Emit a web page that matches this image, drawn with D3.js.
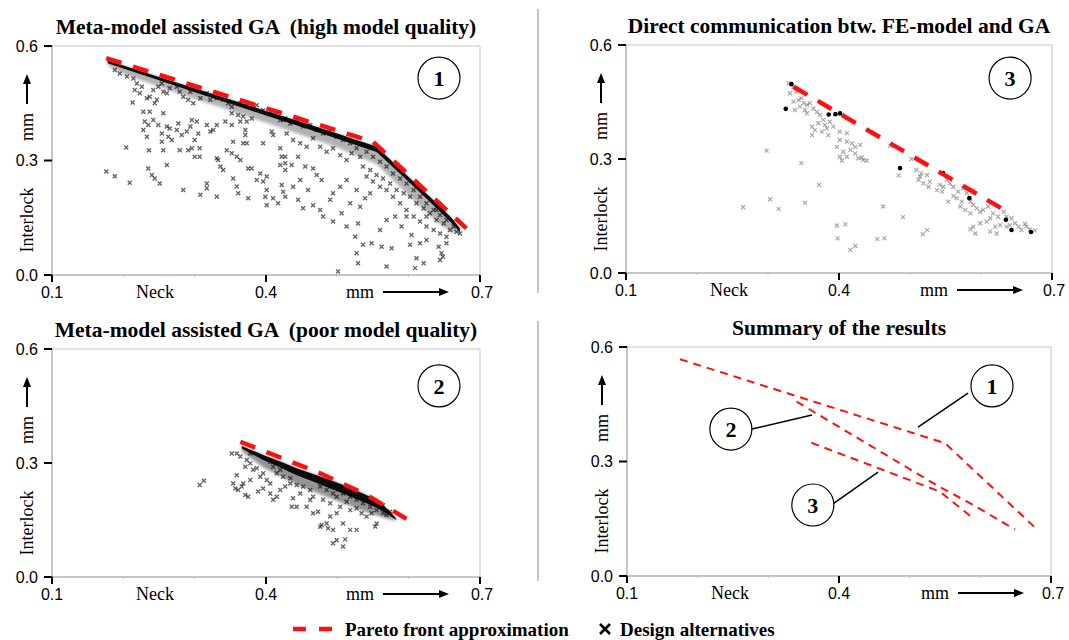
<!DOCTYPE html>
<html><head><meta charset="utf-8">
<script src="https://cdn.jsdelivr.net/npm/d3@7"></script>
<style>body{margin:0;background:#fff}</style>
</head><body><svg id="c" width="1069" height="640"></svg>
<script>
// ---------- data ----------
const xTicks=[0.1,0.4,0.7];
const yTicks=[0.0,0.3,0.6];
const xMinorTicks=[0.2,0.3,0.5,0.6];
const titles=["Meta-model assisted GA  (high model quality)","Direct communication btw. FE-model and GA","Meta-model assisted GA  (poor model quality)","Summary of the results"];
const xLabel="Neck", unitLabel="mm", yLabel="Interlock";
const legendLabels=["Pareto front approximation","Design alternatives"];

const p1Pareto=[[0.176,0.568],[0.40,0.437],[0.55,0.349],[0.681,0.122]];
const p2Pareto=[[0.364,0.356],[0.476,0.273],[0.541,0.216],[0.597,0.153]];
const p3Pareto=[[0.336,0.490],[0.629,0.170]];
const sum1=[[0.175,0.568],[0.55,0.348],[0.682,0.119]];
const sum2=[[0.340,0.457],[0.538,0.238],[0.590,0.186],[0.649,0.122]];
const sum3=[[0.361,0.349],[0.543,0.221],[0.588,0.154]];

const p1BandTop=[[0.178,0.562],[0.20,0.549],[0.25,0.519],[0.30,0.489],[0.35,0.460],[0.40,0.430],[0.45,0.401],[0.50,0.371],[0.53,0.352],[0.555,0.337],[0.58,0.292],[0.60,0.257],[0.62,0.222],[0.64,0.187],[0.66,0.150],[0.672,0.122]];
const p1BandBottom=[[0.178,0.555],[0.20,0.541],[0.25,0.510],[0.30,0.479],[0.35,0.449],[0.40,0.418],[0.45,0.388],[0.50,0.357],[0.53,0.338],[0.555,0.322],[0.58,0.279],[0.60,0.244],[0.62,0.209],[0.64,0.173],[0.66,0.136],[0.672,0.112]];
const p1HazeBottom=[[0.178,0.548],[0.20,0.527],[0.25,0.493],[0.30,0.461],[0.35,0.431],[0.40,0.399],[0.45,0.367],[0.50,0.334],[0.53,0.310],[0.555,0.290],[0.58,0.245],[0.60,0.208],[0.62,0.172],[0.64,0.138],[0.66,0.112],[0.672,0.108]];
const p2BandTop=[[0.366,0.345],[0.396,0.321],[0.420,0.304],[0.443,0.286],[0.466,0.271],[0.490,0.255],[0.513,0.239],[0.536,0.220],[0.555,0.203],[0.569,0.181],[0.581,0.157],[0.583,0.150]];
const p2BandBottom=[[0.366,0.338],[0.396,0.308],[0.420,0.288],[0.443,0.268],[0.466,0.251],[0.490,0.233],[0.513,0.216],[0.536,0.198],[0.555,0.182],[0.569,0.167],[0.581,0.152],[0.583,0.150]];
const p2HazeBottom=[[0.366,0.330],[0.396,0.288],[0.420,0.265],[0.443,0.243],[0.466,0.225],[0.490,0.207],[0.513,0.190],[0.536,0.174],[0.555,0.162],[0.569,0.154],[0.581,0.148],[0.583,0.150]];

const p1Points=[
[0.188,0.537],[0.195,0.528],[0.205,0.520],[0.214,0.515],[0.219,0.502],[0.226,0.493],[0.216,0.485],[0.223,0.476],[0.233,0.463],[0.237,0.467],[0.242,0.485],[0.249,0.493],[0.254,0.502],[0.256,0.480],[0.247,0.459],[0.244,0.450],[0.261,0.476],[0.265,0.489],[0.275,0.493],[0.279,0.480],[0.284,0.467],[0.294,0.480],[0.291,0.459],[0.298,0.450],[0.308,0.463],[0.317,0.476],[0.322,0.459],[0.331,0.463],[0.340,0.459],[0.347,0.450],[0.352,0.441],[0.364,0.450],[0.373,0.445],[0.382,0.437],[0.387,0.445],[0.396,0.432],[0.406,0.428],[0.413,0.419],[0.420,0.406],[0.427,0.410],[0.213,0.452],
[0.228,0.428],[0.237,0.428],[0.242,0.406],[0.256,0.424],[0.230,0.402],[0.235,0.393],[0.228,0.380],[0.233,0.362],[0.249,0.393],[0.261,0.389],[0.265,0.384],[0.275,0.380],[0.263,0.362],[0.254,0.371],[0.268,0.354],[0.254,0.349],[0.256,0.327],[0.277,0.397],[0.282,0.367],[0.289,0.376],[0.294,0.389],[0.296,0.406],[0.303,0.402],[0.305,0.371],[0.300,0.354],[0.296,0.332],[0.291,0.327],[0.307,0.332],[0.300,0.310],[0.279,0.327],[0.307,0.310],[0.317,0.393],[0.322,0.376],[0.326,0.380],[0.331,0.393],[0.343,0.402],[0.352,0.424],[0.361,0.419],[0.352,0.393],[0.364,0.402],[0.368,0.415],[0.373,0.402],[0.380,0.410],[0.371,0.380],[0.371,0.367],[0.368,0.345],[0.373,0.345],[0.354,0.349],[0.345,0.327],[0.359,0.310],[0.364,0.301],[0.331,0.306],[0.333,0.301],[0.352,0.319],[0.396,0.345],[0.408,0.376],[0.410,0.367],[0.420,0.332],[0.427,0.310],[0.204,0.334],[0.236,0.327],[0.261,0.288],
[0.176,0.271],[0.188,0.259],[0.209,0.242],[0.235,0.279],[0.240,0.262],[0.244,0.253],[0.251,0.240],[0.284,0.223],[0.308,0.210],[0.317,0.227],[0.317,0.240],[0.331,0.205],[0.336,0.284],[0.340,0.275],[0.354,0.253],[0.359,0.232],[0.361,0.214],[0.375,0.201],[0.375,0.279],[0.380,0.279],[0.387,0.249],[0.392,0.266],[0.396,0.245],[0.401,0.258],[0.401,0.223],[0.399,0.205],[0.410,0.201],[0.401,0.183],[0.417,0.188],[0.422,0.236],[0.424,0.218],[0.427,0.293],[0.420,0.288],
[0.424,0.406],[0.434,0.397],[0.443,0.402],[0.452,0.389],[0.462,0.393],[0.471,0.380],[0.480,0.371],[0.490,0.376],[0.499,0.362],[0.508,0.354],[0.518,0.345],[0.527,0.332],[0.536,0.341],[0.541,0.323],[0.550,0.310],[0.560,0.297],[0.569,0.284],[0.578,0.266],[0.588,0.253],[0.597,0.240],[0.607,0.223],[0.616,0.205],[0.625,0.188],[0.635,0.170],[0.644,0.157],[0.653,0.144],[0.663,0.127],[0.667,0.113],[0.672,0.109],
[0.429,0.371],[0.438,0.354],[0.448,0.345],[0.457,0.336],[0.466,0.358],[0.476,0.336],[0.485,0.323],[0.494,0.332],[0.504,0.314],[0.513,0.301],[0.520,0.319],[0.532,0.310],[0.536,0.284],[0.546,0.275],[0.555,0.262],[0.564,0.253],[0.574,0.240],[0.583,0.223],[0.593,0.214],[0.602,0.205],[0.611,0.188],[0.621,0.175],[0.630,0.162],[0.639,0.144],[0.649,0.135],[0.658,0.118],[0.588,0.188],[0.597,0.170],[0.607,0.153],[0.616,0.140],[0.625,0.127],[0.635,0.118],[0.644,0.109],[0.653,0.100],[0.578,0.205],[0.569,0.223],[0.560,0.231],[0.550,0.245],[0.541,0.258],
[0.422,0.310],[0.427,0.275],[0.436,0.288],[0.445,0.310],[0.455,0.284],[0.466,0.279],[0.471,0.262],[0.478,0.249],[0.448,0.249],[0.438,0.231],[0.459,0.223],[0.427,0.205],[0.445,0.197],[0.452,0.175],[0.466,0.183],[0.476,0.170],[0.480,0.153],[0.490,0.197],[0.494,0.214],[0.504,0.231],[0.513,0.249],[0.518,0.188],[0.506,0.162],[0.494,0.140],[0.513,0.127],[0.529,0.135],[0.532,0.179],[0.539,0.201],[0.546,0.214],[0.527,0.223],[0.525,0.100],[0.536,0.079],[0.548,0.083],[0.562,0.074],[0.576,0.070],[0.560,0.118],[0.569,0.144],[0.581,0.153],[0.590,0.127],[0.604,0.105],[0.616,0.083],[0.602,0.079],[0.611,0.044],[0.625,0.092],[0.642,0.074],[0.653,0.083],[0.646,0.057],[0.644,0.039],[0.621,0.031],[0.527,0.057],[0.529,0.031],[0.501,0.009],[0.597,0.153],[0.625,0.153],[0.639,0.170],[0.569,0.022],[0.609,0.018],[0.648,0.048]
];

const p2Points=[
[0.307,0.242],[0.313,0.253],
[0.352,0.325],[0.359,0.325],[0.364,0.317],[0.373,0.308],[0.378,0.299],[0.371,0.290],[0.382,0.282],[0.387,0.286],[0.396,0.273],[0.392,0.264],[0.401,0.255],[0.406,0.246],[0.378,0.255],[0.368,0.246],[0.359,0.268],[0.354,0.246],[0.361,0.229],[0.371,0.216],[0.375,0.211],[0.357,0.233],[0.366,0.238],[0.389,0.225],[0.396,0.233],[0.406,0.220],[0.415,0.211],[0.410,0.203],[0.420,0.229],[0.427,0.238],[0.434,0.246],[0.438,0.207],[0.443,0.185],[0.436,0.185],[0.448,0.220],[0.457,0.185],[0.462,0.203],[0.466,0.168],[0.473,0.172],[0.478,0.137],[0.485,0.141],[0.487,0.128],[0.494,0.124],[0.476,0.132],[0.490,0.159],[0.499,0.168],[0.504,0.185],[0.513,0.198],[0.518,0.176],[0.527,0.181],[0.534,0.168],[0.541,0.159],[0.548,0.168],[0.555,0.141],[0.553,0.133],[0.527,0.124],[0.518,0.124],[0.508,0.141],[0.499,0.097],[0.494,0.089],[0.508,0.080],[0.511,0.099],
[0.466,0.211],[0.480,0.203],[0.490,0.194],[0.499,0.211],[0.508,0.220],[0.518,0.211],[0.527,0.203],[0.536,0.194],[0.546,0.185],[0.555,0.176],[0.564,0.168],[0.569,0.163],[0.462,0.229],[0.452,0.238],[0.443,0.242],[0.434,0.260],[0.424,0.264],[0.415,0.273],[0.410,0.290],[0.420,0.282],[0.476,0.238],[0.485,0.229],[0.494,0.220],
[0.378,0.325],[0.406,0.303],[0.434,0.282],[0.462,0.264],[0.490,0.242],[0.518,0.225],[0.546,0.207],[0.564,0.189],[0.574,0.172]
];

const p3Gray=[
[0.329,0.499],[0.336,0.490],[0.331,0.473],[0.340,0.477],[0.343,0.455],[0.350,0.447],[0.355,0.442],[0.336,0.451],[0.345,0.438],[0.352,0.429],[0.359,0.447],[0.364,0.433],[0.369,0.424],[0.355,0.420],[0.347,0.460],[0.338,0.429],[0.373,0.416],[0.378,0.403],[0.387,0.398],[0.380,0.390],[0.371,0.394],[0.362,0.385],[0.366,0.376],[0.376,0.372],[0.383,0.381],[0.392,0.385],[0.401,0.372],[0.411,0.368],[0.385,0.363],[0.362,0.363],
[0.401,0.350],[0.411,0.346],[0.418,0.341],[0.423,0.332],[0.416,0.324],[0.406,0.319],[0.401,0.306],[0.411,0.306],[0.423,0.315],[0.430,0.337],[0.427,0.302],[0.434,0.297],[0.439,0.296],[0.432,0.304],[0.404,0.296],[0.397,0.332],
[0.298,0.322],[0.347,0.289],[0.372,0.232],[0.303,0.194],[0.315,0.168],[0.352,0.185],[0.265,0.173],[0.397,0.125],[0.409,0.128],[0.398,0.091],[0.416,0.061],[0.423,0.071],[0.454,0.090],[0.464,0.091],[0.462,0.175],[0.490,0.147],[0.518,0.102],[0.524,0.113],[0.484,0.257],[0.472,0.334],[0.502,0.300],
[0.509,0.271],[0.516,0.262],[0.524,0.258],[0.512,0.245],[0.519,0.236],[0.528,0.240],[0.526,0.227],[0.514,0.254],[0.542,0.232],[0.547,0.227],[0.538,0.218],[0.552,0.245],[0.556,0.236],[0.545,0.214],
[0.561,0.227],[0.568,0.214],[0.575,0.223],[0.580,0.210],[0.566,0.197],[0.573,0.188],[0.585,0.188],[0.589,0.179],[0.571,0.175],[0.578,0.166],[0.594,0.170],[0.599,0.161],[0.585,0.157],[0.561,0.203],[0.554,0.188],[0.589,0.218],
[0.603,0.166],[0.610,0.175],[0.617,0.157],[0.613,0.144],[0.624,0.148],[0.632,0.161],[0.636,0.148],[0.643,0.144],[0.648,0.131],[0.627,0.126],[0.620,0.122],[0.608,0.135],[0.599,0.131],[0.589,0.122],[0.592,0.104],[0.613,0.109],[0.622,0.104],[0.653,0.122],[0.657,0.113],[0.664,0.122],[0.669,0.115],[0.676,0.112],[0.636,0.122],[0.641,0.126],[0.662,0.129],[0.585,0.115]
];
const p3Dark=[[0.333,0.497],[0.325,0.432],[0.3855,0.417],[0.395,0.418],[0.4015,0.420],[0.486,0.276],[0.5465,0.263],[0.5836,0.197],[0.635,0.140],[0.643,0.113],[0.6705,0.108]];

// summary annotations (data coordinates)
const sumCircles=[{t:"1",c:[0.6165,0.498],from:[0.5826,0.479],to:[0.5118,0.390]},
                  {t:"2",c:[0.247,0.385],from:[0.2769,0.385],to:[0.3618,0.422]},
                  {t:"3",c:[0.363,0.186],from:[0.3915,0.189],to:[0.4552,0.272]}];

// ---------- layout ----------
const panels=[
 {id:1,L:52,R:480,T:46,B:275,title:titles[0],label:"1",lab:[0.6425,0.516]},
 {id:3,L:626,R:1052,T:45,B:273,title:titles[1],label:"3",lab:[0.641,0.513]},
 {id:2,L:52,R:480,T:349,B:577,title:titles[2],label:"2",lab:[0.6425,0.503]},
 {id:4,L:627,R:1051,T:347,B:576,title:titles[3]}
];
const serif="'Liberation Serif','Times New Roman',serif";
const sans="'Liberation Sans',Arial,sans-serif";
const svg=d3.select("#c");
const RED="#ff1010";

const defs=svg.append("defs");
defs.append("filter").attr("id","haze").attr("x","-10%").attr("y","-10%").attr("width","120%").attr("height","120%")
  .append("feGaussianBlur").attr("stdDeviation",1.6);
defs.append("filter").attr("id","soft").append("feGaussianBlur").attr("stdDeviation",0.35);

// separators
svg.append("line").attr("x1",538).attr("x2",538).attr("y1",9).attr("y2",293).attr("stroke","#8a8a8a").attr("stroke-width",1);
svg.append("line").attr("x1",538).attr("x2",538).attr("y1",321).attr("y2",581).attr("stroke","#8a8a8a").attr("stroke-width",1);

const crossPath="M-2,-2L2,2M-2,2L2,-2";

panels.forEach(p=>{
  const x=d3.scaleLinear().domain([0.1,0.7]).range([p.L,p.R]);
  const y=d3.scaleLinear().domain([0,0.6]).range([p.B,p.T]);
  const g=svg.append("g");
  g.append("path").attr("d",`M${p.L},${p.T}H${p.R}V${p.B}`).attr("fill","none").attr("stroke","#c4c4c4").attr("stroke-width",1);
  g.append("line").attr("x1",p.L).attr("x2",p.L).attr("y1",p.T).attr("y2",p.B).attr("stroke","#8c8c8c");
  g.append("line").attr("x1",p.L).attr("x2",p.R).attr("y1",p.B).attr("y2",p.B).attr("stroke","#8c8c8c");
  xMinorTicks.forEach(v=>g.append("line").attr("x1",x(v)).attr("x2",x(v)).attr("y1",p.B).attr("y2",p.B+2).attr("stroke","#bbb"));
  yTicks.forEach(v=>{
    g.append("line").attr("x1",p.L-8).attr("x2",p.L).attr("y1",y(v)).attr("y2",y(v)).attr("stroke","#000").attr("stroke-width",2);
    g.append("text").attr("x",p.L-14).attr("y",y(v)).attr("dy","0.35em").attr("text-anchor","end")
      .attr("font-family",sans).attr("font-size",16).text(d3.format(".1f")(v));
  });
  xTicks.forEach(v=>{
    g.append("line").attr("x1",x(v)).attr("x2",x(v)).attr("y1",p.B).attr("y2",p.B+7).attr("stroke","#000").attr("stroke-width",2);
    g.append("text").attr("x",x(v)+(v===0.7?2:0)).attr("y",p.B+23).attr("text-anchor","middle")
      .attr("font-family",sans).attr("font-size",16).text(d3.format(".1f")(v));
  });
  g.append("text").attr("x",p.L+103).attr("y",p.B+23).attr("text-anchor","middle").attr("font-family",serif).attr("font-size",18).text(xLabel);
  g.append("text").attr("x",p.L+308).attr("y",p.B+23).attr("text-anchor","middle").attr("font-family",serif).attr("font-size",18).text(unitLabel);
  g.append("line").attr("x1",p.L+331).attr("x2",p.L+389).attr("y1",p.B+17).attr("y2",p.B+17).attr("stroke","#000").attr("stroke-width",2);
  g.append("path").attr("d",`M${p.L+397},${p.B+17}l-10,-4v8z`).attr("fill","#000");
  const yx=p.L-25;
  g.append("text").attr("transform",`translate(${yx+6},${p.T+174}) rotate(-90)`).attr("text-anchor","middle").attr("font-family",serif).attr("font-size",18).text(yLabel);
  g.append("text").attr("transform",`translate(${yx+6},${p.T+81}) rotate(-90)`).attr("text-anchor","middle").attr("font-family",serif).attr("font-size",18).text(unitLabel);
  g.append("line").attr("x1",yx).attr("x2",yx).attr("y1",p.T+58).attr("y2",p.T+36).attr("stroke","#000").attr("stroke-width",2);
  g.append("path").attr("d",`M${yx},${p.T+28}l-4,10h8z`).attr("fill","#000");
  g.append("text").attr("x",(p.L+p.R)/2).attr("y",p.T-12).attr("text-anchor","middle").attr("font-family",serif).attr("font-weight","bold").attr("font-size",21.5).style("white-space","pre").text(p.title);

  const line=d3.line().x(d=>x(d[0])).y(d=>y(d[1]));
  const bandArea=(top,bot)=>line(top.concat(bot.slice().reverse()))+"Z";
  const drawCrosses=(pts,op,w)=>{
    g.append("g").attr("filter","url(#soft)").selectAll("path").data(pts).join("path")
      .attr("transform",d=>`translate(${x(d[0])},${y(d[1])})`).attr("d",crossPath)
      .attr("stroke","#000").attr("stroke-width",w).attr("stroke-opacity",op).attr("fill","none");
  };
  if(p.id===1){
    g.append("path").attr("d",bandArea(p1BandTop,p1HazeBottom)).attr("fill","#000").attr("fill-opacity",0.3).attr("filter","url(#haze)");
    drawCrosses(p1Points,0.6,1.4);
    g.append("path").attr("d",bandArea(p1BandTop,p1BandBottom)).attr("fill","#000").attr("fill-opacity",0.92);
    g.append("path").attr("d",line(p1Pareto)).attr("fill","none").attr("stroke",RED).attr("stroke-width",4.5).attr("stroke-dasharray","16,12");
  }
  if(p.id===2){
    g.append("path").attr("d",bandArea(p2BandTop,p2HazeBottom)).attr("fill","#000").attr("fill-opacity",0.42).attr("filter","url(#haze)");
    drawCrosses(p2Points,0.6,1.4);
    g.append("path").attr("d",bandArea(p2BandTop,p2BandBottom)).attr("fill","#000").attr("fill-opacity",0.92);
    g.append("path").attr("d",line(p2Pareto)).attr("fill","none").attr("stroke",RED).attr("stroke-width",4.5).attr("stroke-dasharray","16,12");
  }
  if(p.id===3){
    drawCrosses(p3Gray,0.34,1.2);
    g.append("g").selectAll("circle").data(p3Dark).join("circle").attr("cx",d=>x(d[0])).attr("cy",d=>y(d[1])).attr("r",2.3).attr("fill","#000");
    g.append("path").attr("d",line(p3Pareto)).attr("fill","none").attr("stroke",RED).attr("stroke-width",4.5).attr("stroke-dasharray","16,12");
  }
  if(p.label){
    g.append("circle").attr("cx",x(p.lab[0])).attr("cy",y(p.lab[1])).attr("r",21).attr("fill","#fff").attr("stroke","#000").attr("stroke-width",1.2);
    g.append("text").attr("x",x(p.lab[0])).attr("y",y(p.lab[1])).attr("dy","0.35em").attr("text-anchor","middle").attr("font-family",serif).attr("font-weight","bold").attr("font-size",22).text(p.label);
  }
  if(p.id===4){
    [sum1,sum2,sum3].forEach(s=>g.append("path").attr("d",line(s)).attr("fill","none").attr("stroke",RED).attr("stroke-width",2).attr("stroke-dasharray","8,6"));
    sumCircles.forEach(a=>{
      g.append("line").attr("x1",x(a.from[0])).attr("y1",y(a.from[1])).attr("x2",x(a.to[0])).attr("y2",y(a.to[1])).attr("stroke","#000").attr("stroke-width",1.5);
      g.append("circle").attr("cx",x(a.c[0])).attr("cy",y(a.c[1])).attr("r",21).attr("fill","#fff").attr("stroke","#000").attr("stroke-width",1.2);
      g.append("text").attr("x",x(a.c[0])).attr("y",y(a.c[1])).attr("dy","0.35em").attr("text-anchor","middle").attr("font-family",serif).attr("font-weight","bold").attr("font-size",22).text(a.t);
    });
  }
});

// legend
const lg=svg.append("g");
lg.append("line").attr("x1",293).attr("x2",332).attr("y1",629).attr("y2",629).attr("stroke",RED).attr("stroke-width",4.5).attr("stroke-dasharray","13,13");
lg.append("text").attr("x",345).attr("y",636).attr("font-family",serif).attr("font-weight","bold").attr("font-size",19).text(legendLabels[0]);
lg.append("path").attr("d","M600,624L610,634M600,634L610,624").attr("stroke","#000").attr("stroke-width",2.6);
lg.append("text").attr("x",620).attr("y",636).attr("font-family",serif).attr("font-weight","bold").attr("font-size",19).text(legendLabels[1]);
</script></body></html>
